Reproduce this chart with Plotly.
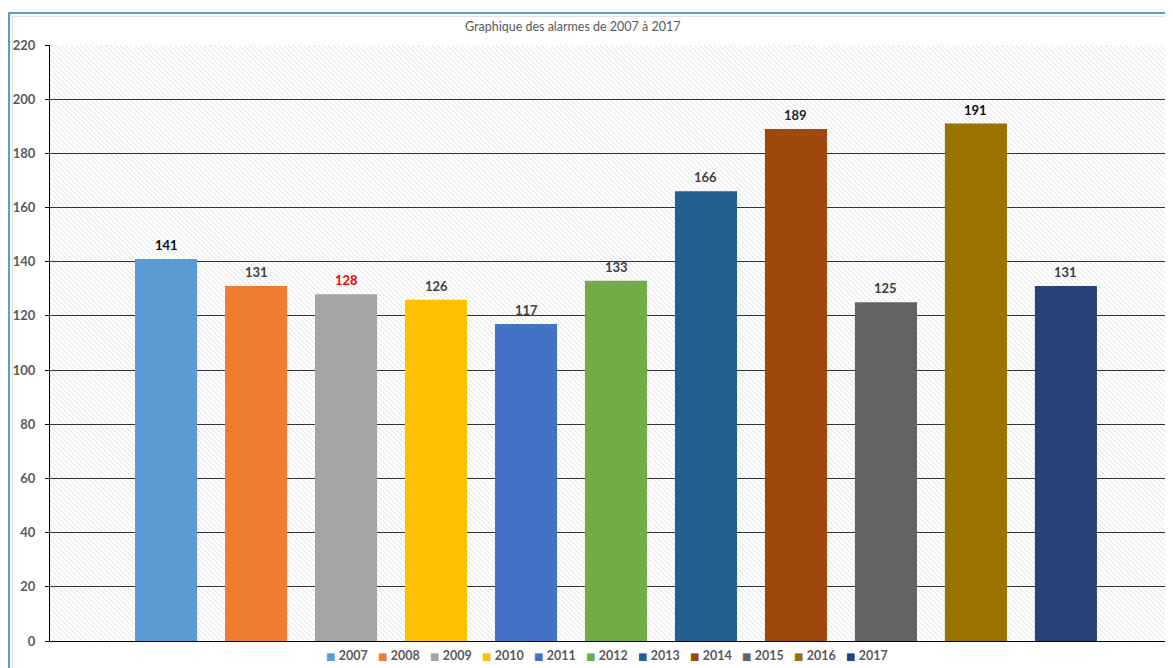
import base64
import plotly.graph_objects as go

years = ["2007", "2008", "2009", "2010", "2011", "2012", "2013", "2014", "2015", "2016", "2017"]
alarms = [141, 131, 128, 126, 117, 133, 166, 189, 125, 191, 131]
bar_colors = ["#5B9BD5", "#ED7D31", "#A5A5A5", "#FFC000", "#4472C4", "#70AD47",
              "#255E91", "#9E480E", "#636363", "#997300", "#264478"]
label_colors = ["#0d0d0d", "#404040", "#FF0000", "#404040", "#404040", "#404040",
                "#404040", "#262626", "#404040", "#0d0d0d", "#404040"]
title_text = "Graphique des alarmes de 2007 à 2017"

OFF = 8  # page body margin
W, H = 1173 - OFF, 668 - OFF
L, R, T, B = 50 - OFF, 0, 45 - OFF, 27
PW, PH = W - L - R, H - T - B
FONT = "Lato, 'Open Sans', sans-serif"


def px_x(px):  # page pixel -> paper x
    return (px - OFF - L) / PW


def px_y(py):  # page pixel -> paper y
    return (H + OFF - B - py) / PH


fig = go.Figure()
for yr, v, c in zip(years, alarms, bar_colors):
    fig.add_trace(go.Bar(x=[yr], y=[v], name=yr, marker=dict(color=c, line=dict(width=0)),
                         width=0.69, showlegend=False, hoverinfo="x+y"))

annotations = []
for i, (v, lc) in enumerate(zip(alarms, label_colors)):
    annotations.append(dict(x=i, y=v, xref="x", yref="y", text=f"<b>{v}</b>", showarrow=False,
                            xanchor="center", yanchor="bottom", yshift=4,
                            font=dict(family=FONT, size=13, color=lc)))

# title
annotations.append(dict(x=px_x(572), y=px_y(27), xref="paper", yref="paper", text=title_text,
                        showarrow=False, xanchor="center", yanchor="middle",
                        font=dict(family=FONT, size=12.5, color="#595959")))

# legend (bottom, Excel style)
for i, (yr, c) in enumerate(zip(years, bar_colors)):
    annotations.append(dict(x=px_x(324 + i * 52), y=px_y(655), xref="paper", yref="paper",
                            text=f"<span style='color:{c};font-size:10px;font-family:DejaVu Sans'>■</span> <b>{yr}</b>",
                            showarrow=False, xanchor="left", yanchor="middle",
                            font=dict(family=FONT, size=12.5, color="#595959")))

svg = (f"<svg xmlns='http://www.w3.org/2000/svg' width='{PW}' height='{PH}'>"
       "<defs><pattern id='p' width='3.5' height='3.5' patternUnits='userSpaceOnUse' patternTransform='rotate(-45)'>"
       "<line x1='0' y1='-1' x2='0' y2='5' stroke='#d6d6d6' stroke-width='1.1'/></pattern></defs>"
       "<rect width='100%' height='100%' fill='white'/><rect width='100%' height='100%' fill='url(#p)'/></svg>")
src = "data:image/svg+xml;base64," + base64.b64encode(svg.encode()).decode()

shapes = [
    # spreadsheet frame (blue selection lines)
    dict(type="line", xref="paper", yref="paper", x0=px_x(8), x1=px_x(1180), y0=px_y(13), y1=px_y(13),
         line=dict(color="#5B9BD5", width=2)),
    dict(type="line", xref="paper", yref="paper", x0=px_x(9), x1=px_x(9), y0=px_y(13), y1=px_y(675),
         line=dict(color="#5B9BD5", width=2)),
    dict(type="line", xref="paper", yref="paper", x0=px_x(12), x1=px_x(1180), y0=px_y(16.5), y1=px_y(16.5),
         line=dict(color="#e4e4e4", width=1)),
    dict(type="line", xref="paper", yref="paper", x0=px_x(12.5), x1=px_x(12.5), y0=px_y(16), y1=px_y(675),
         line=dict(color="#e4e4e4", width=1)),
]

fig.update_layout(
    width=W, height=H,
    margin=dict(l=L, r=R, t=T, b=B, pad=0),
    paper_bgcolor="white",
    plot_bgcolor="rgba(0,0,0,0)",
    barmode="overlay",
    showlegend=False,
    annotations=annotations,
    shapes=shapes,
    images=[dict(source=src, xref="paper", yref="paper", x=0, y=1, sizex=1, sizey=1,
                 xanchor="left", yanchor="top", sizing="stretch", layer="below")],
    font=dict(family=FONT),
    xaxis=dict(type="category", range=[-1.29, 11.19], showticklabels=False, ticks="",
               showgrid=False, showline=True, linecolor="#000000", linewidth=1, zeroline=False,
               fixedrange=True),
    yaxis=dict(range=[0, 220], dtick=20, tick0=0, showgrid=True, gridcolor="#333333", gridwidth=1,
               showline=True, linecolor="#000000", linewidth=1, ticks="outside", ticklen=4,
               tickcolor="#000000", zeroline=False, ticklabelstandoff=7,
               tickfont=dict(family=FONT, size=13, color="#595959", weight="bold"),
               fixedrange=True),
)

fig.write_html("out.html")
